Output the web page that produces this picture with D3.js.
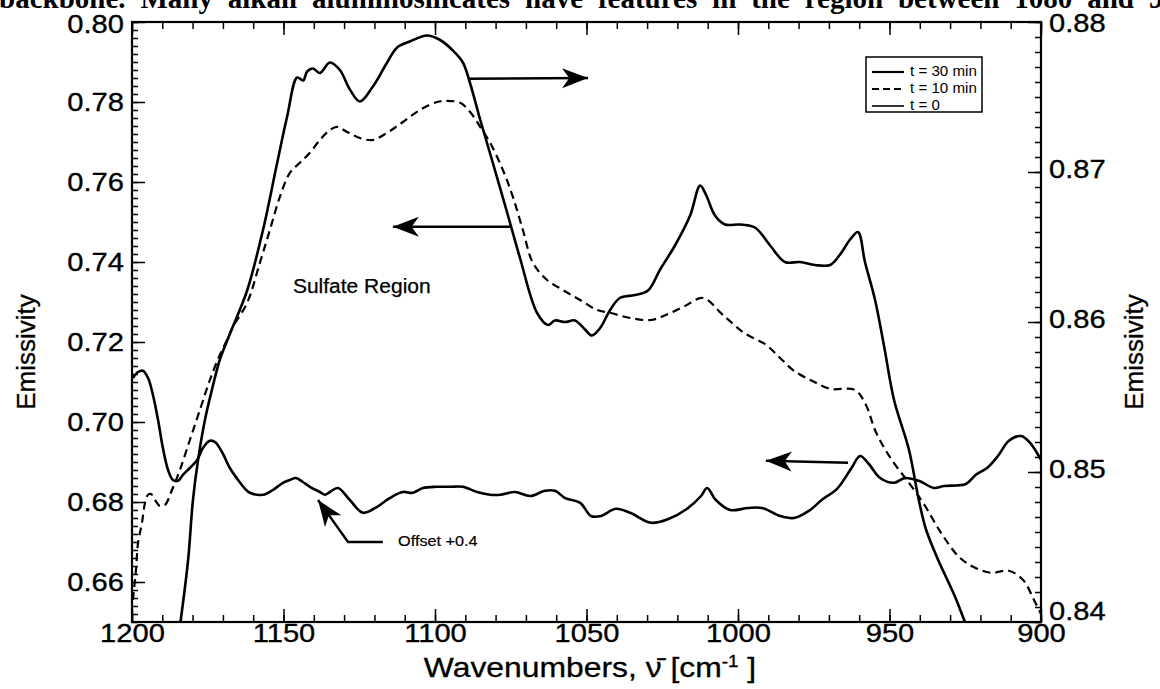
<!DOCTYPE html>
<html>
<head>
<meta charset="utf-8">
<script src="https://cdn.jsdelivr.net/npm/d3@7"></script>
<style>
  html, body { margin: 0; padding: 0; background: #fff; }
  svg { display: block; }
</style>
</head>
<body>
<svg id="chart" width="1160" height="689"></svg>
<script>
// ---------------- DATA ----------------
// t = 30 min (right axis)
const wn30 = [1184.0,1181.5,1179.9,1178.2,1175.9,1173.6,1171.0,1168.3,1166.7,1162.0,1156.8,1152.1,1148.8,1145.5,1143.5,1142.2,1140.3,1138.0,1134.7,1131.4,1128.1,1124.8,1120.5,1115.8,1112.5,1108.3,1102.6,1098.3,1094.1,1090.8,1088.4,1085.1,1080.9,1076.2,1072.0,1066.3,1062.7,1060.4,1057.1,1053.8,1050.5,1048.2,1045.5,1042.2,1039.0,1034.0,1029.7,1025.7,1020.8,1015.8,1012.5,1010.6,1007.6,1004.3,999.3,994.4,989.4,984.5,979.5,974.6,969.6,966.3,963.0,960.4,958.1,954.8,951.8,948.5,943.6,940.3,938.0,934.3,928.4,925.1,922.0];
const em30 = [0.8400,0.8441,0.8481,0.8508,0.8535,0.8555,0.8575,0.8589,0.8597,0.8621,0.8661,0.8706,0.8737,0.8763,0.8761,0.8767,0.8769,0.8766,0.8773,0.8768,0.8755,0.8747,0.8757,0.8773,0.8783,0.8787,0.8791,0.8788,0.8781,0.8773,0.8759,0.8735,0.8706,0.8673,0.8643,0.8606,0.8598,0.8601,0.8600,0.8601,0.8595,0.8591,0.8596,0.8608,0.8616,0.8618,0.8621,0.8635,0.8651,0.8671,0.8691,0.8685,0.8671,0.8665,0.8665,0.8663,0.8651,0.8640,0.8640,0.8638,0.8638,0.8645,0.8655,0.8660,0.8640,0.8615,0.8584,0.8548,0.8515,0.8481,0.8462,0.8443,0.8417,0.8400,0.8385];

// t = 10 min (left axis)
const wn10 = [1199.7,1198.7,1198.0,1196.7,1195.7,1194.7,1193.7,1192.4,1190.8,1189.1,1186.8,1184.2,1180.9,1177.6,1174.3,1171.0,1168.3,1166.7,1162.0,1157.8,1154.5,1151.2,1147.9,1144.6,1141.3,1138.0,1134.7,1132.3,1129.0,1124.8,1120.5,1115.8,1110.6,1105.0,1099.3,1096.0,1091.7,1088.4,1085.1,1081.8,1077.6,1074.3,1071.0,1067.7,1063.0,1057.8,1052.1,1046.5,1042.2,1035.6,1028.7,1023.1,1017.5,1011.6,1005.0,998.0,990.8,986.1,981.5,975.6,969.6,961.4,957.8,954.5,949.5,943.6,938.9,933.0,927.1,922.4,916.5,910.6,905.9,902.3,900.0];
const em10 = [0.6555,0.6630,0.6698,0.6748,0.6798,0.6818,0.6820,0.6805,0.6790,0.6793,0.6830,0.6880,0.6955,0.7030,0.7105,0.7168,0.7210,0.7238,0.7298,0.7398,0.7480,0.7563,0.7623,0.7648,0.7673,0.7705,0.7730,0.7738,0.7725,0.7710,0.7705,0.7723,0.7750,0.7780,0.7800,0.7803,0.7798,0.7775,0.7738,0.7698,0.7630,0.7563,0.7480,0.7398,0.7355,0.7330,0.7305,0.7280,0.7273,0.7260,0.7255,0.7270,0.7290,0.7310,0.7268,0.7223,0.7193,0.7160,0.7128,0.7103,0.7083,0.7080,0.7043,0.6975,0.6908,0.6848,0.6798,0.6723,0.6663,0.6638,0.6623,0.6628,0.6605,0.6555,0.6520];

// t = 0 (left axis, offset +0.4)
const wn0 = [1199.7,1198.0,1196.4,1194.7,1193.1,1191.4,1189.8,1188.1,1186.5,1184.8,1183.2,1180.9,1178.5,1176.6,1174.3,1172.6,1170.3,1167.7,1165.0,1162.7,1161.1,1156.8,1153.5,1150.2,1147.9,1145.9,1143.6,1141.3,1138.0,1136.3,1134.7,1132.0,1128.1,1123.8,1119.1,1114.9,1110.6,1107.3,1104.0,1099.3,1095.0,1090.8,1086.1,1081.8,1078.5,1073.6,1068.6,1063.7,1060.4,1057.1,1052.1,1048.5,1045.2,1040.3,1035.6,1028.7,1022.8,1016.8,1012.2,1010.2,1007.3,1002.6,996.7,992.1,986.1,981.5,976.6,971.9,967.3,962.7,959.7,956.8,953.1,948.5,944.9,940.3,935.3,932.0,924.8,921.5,917.8,914.2,910.6,906.6,903.6,900.0];
const em0 = [0.7110,0.7125,0.7128,0.7110,0.7068,0.7005,0.6935,0.6880,0.6855,0.6853,0.6868,0.6885,0.6905,0.6935,0.6953,0.6950,0.6925,0.6885,0.6855,0.6833,0.6823,0.6818,0.6830,0.6848,0.6855,0.6860,0.6850,0.6838,0.6825,0.6818,0.6825,0.6835,0.6805,0.6773,0.6788,0.6810,0.6825,0.6823,0.6835,0.6838,0.6838,0.6838,0.6825,0.6818,0.6818,0.6825,0.6815,0.6828,0.6828,0.6810,0.6798,0.6765,0.6765,0.6783,0.6773,0.6748,0.6758,0.6783,0.6815,0.6835,0.6805,0.6780,0.6785,0.6785,0.6765,0.6760,0.6778,0.6808,0.6833,0.6883,0.6915,0.6895,0.6860,0.6848,0.6860,0.6853,0.6835,0.6840,0.6845,0.6868,0.6885,0.6915,0.6953,0.6965,0.6948,0.6905];

// ticks
const xMajor = [1200, 1150, 1100, 1050, 1000, 950, 900];
const xMinor = d3.range(1200, 899, -10);
const yLeftMajor = [0.66, 0.68, 0.70, 0.72, 0.74, 0.76, 0.78, 0.80];
const yLeftMinor = d3.range(0, 76).map(i => 0.65 + i * 0.002);
const yRightMajor = [0.84, 0.85, 0.86, 0.87, 0.88];
const yRightMinor = d3.range(0, 41).map(i => 0.84 + i * 0.001);

const legendLabels = ["t = 30 min", "t = 10 min", "t = 0"];
const topText = "backbone.  Many alkali aluminosilicates have features in the region between 1080 and 9";

// ---------------- LAYOUT ----------------
const svg = d3.select("#chart");
const L = 132, R = 1041, T = 22, B = 622;
const font = "'Liberation Sans', Arial, Helvetica, sans-serif";
const WIDE = 1.12; // the printed figure's type is slightly wide

const x = d3.scaleLinear().domain([1200, 900]).range([L, R]);
const yL = d3.scaleLinear().domain([0.65, 0.80]).range([B, T]);
const yR = d3.scaleLinear().domain([0.84, 0.88]).range([B, T]);

function widen(sel, f) {
  sel.each(function () {
    const w = this.getComputedTextLength();
    if (w > 0) d3.select(this).attr("textLength", w * f).attr("lengthAdjust", "spacingAndGlyphs");
  });
}

// partial caption text at top (cropped document page)
const tt = svg.append("text")
  .attr("x", -1).attr("y", 8)
  .style("font-family", "'Liberation Serif', 'Times New Roman', serif")
  .style("font-weight", "bold").style("font-size", "29px")
  .text(topText);
{
  const w = tt.node().getComputedTextLength();
  const spaces = (topText.match(/ /g) || []).length;
  tt.style("word-spacing", ((1172 - w) / spaces) + "px");
}

svg.append("defs").append("clipPath").attr("id", "plotclip")
  .append("rect").attr("x", L).attr("y", T).attr("width", R - L).attr("height", B - T);

// ---------------- AXES ----------------
function styleAxis(g, fs) {
  g.select(".domain").remove();
  g.selectAll("line").attr("stroke", "#000").attr("stroke-width", 1.5);
  g.selectAll("text").style("font-family", font).style("font-size", fs + "px")
    .attr("fill", "#000").attr("stroke", "#000").attr("stroke-width", 0.35);
  widen(g.selectAll("text"), WIDE);
}
// bottom
svg.append("g").attr("transform", `translate(0,${B})`)
  .call(d3.axisBottom(x).tickValues(xMinor).tickSize(-7).tickFormat(""))
  .call(g => styleAxis(g, 26));
svg.append("g").attr("transform", `translate(0,${B})`)
  .call(d3.axisBottom(x).tickValues(xMajor).tickSize(-13).tickPadding(2).tickFormat(d3.format("d")))
  .call(g => styleAxis(g, 26));
// top
svg.append("g").attr("transform", `translate(0,${T})`)
  .call(d3.axisTop(x).tickValues(xMinor).tickSize(-7).tickFormat(""))
  .call(g => styleAxis(g, 26));
svg.append("g").attr("transform", `translate(0,${T})`)
  .call(d3.axisTop(x).tickValues(xMajor).tickSize(-13).tickFormat(""))
  .call(g => styleAxis(g, 26));
// left
svg.append("g").attr("transform", `translate(${L},0)`)
  .call(d3.axisLeft(yL).tickValues(yLeftMinor).tickSize(-6).tickFormat(""))
  .call(g => styleAxis(g, 26));
svg.append("g").attr("transform", `translate(${L},0)`)
  .call(d3.axisLeft(yL).tickValues(yLeftMajor).tickSize(-13).tickPadding(8).tickFormat(d3.format(".2f")))
  .call(g => g.selectAll("text").attr("dy", d => d === 0.80 ? "0.42em" : "0.32em"))
  .call(g => styleAxis(g, 26));
// right
svg.append("g").attr("transform", `translate(${R},0)`)
  .call(d3.axisRight(yR).tickValues(yRightMinor).tickSize(-6).tickFormat(""))
  .call(g => styleAxis(g, 26));
svg.append("g").attr("transform", `translate(${R},0)`)
  .call(d3.axisRight(yR).tickValues(yRightMajor).tickSize(-13).tickPadding(8).tickFormat(d3.format(".2f")))
  .call(g => g.selectAll("text").attr("dy", d => d === 0.84 ? "-0.1em" : (d === 0.88 ? "0.36em" : "0.22em")))
  .call(g => styleAxis(g, 26));

// frame
svg.append("rect").attr("x", L).attr("y", T).attr("width", R - L).attr("height", B - T)
  .attr("fill", "none").attr("stroke", "#000").attr("stroke-width", 2.2);

// axis titles
function yTitle(cx) {
  svg.append("text")
    .attr("transform", `translate(${cx},352) rotate(-90)`)
    .attr("text-anchor", "middle").attr("dominant-baseline", "middle")
    .style("font-family", font).style("font-size", "26px")
    .attr("stroke", "#000").attr("stroke-width", 0.3).text("Emissivity");
}
yTitle(28);
yTitle(1136);

const xt = svg.append("text")
  .attr("transform", "translate(590,677) scale(1.18,1)")
  .attr("text-anchor", "middle")
  .style("font-family", font).style("font-size", "27px")
  .attr("stroke", "#000").attr("stroke-width", 0.3);
xt.append("tspan").text("Wavenumbers, \u03BD\u0304 [cm");
xt.append("tspan").attr("dy", -10).style("font-size", "16px").text("-1");
xt.append("tspan").attr("dy", 10).text(" ]");

// ---------------- CURVES ----------------
const plot = svg.append("g").attr("clip-path", "url(#plotclip)");
const lineR = d3.line().x(d => x(d[0])).y(d => yR(d[1])).curve(d3.curveCatmullRom.alpha(0.5));
const lineL = d3.line().x(d => x(d[0])).y(d => yL(d[1])).curve(d3.curveCatmullRom.alpha(0.5));

plot.append("path").datum(d3.zip(wn30, em30)).attr("d", lineR)
  .attr("fill", "none").attr("stroke", "#000").attr("stroke-width", 2.6).attr("stroke-linejoin", "round");
plot.append("path").datum(d3.zip(wn10, em10)).attr("d", lineL)
  .attr("fill", "none").attr("stroke", "#000").attr("stroke-width", 2.2).attr("stroke-dasharray", "8,5");
plot.append("path").datum(d3.zip(wn0, em0)).attr("d", lineL)
  .attr("fill", "none").attr("stroke", "#000").attr("stroke-width", 2.6).attr("stroke-linejoin", "round");

// ---------------- ANNOTATIONS ----------------
function arrowHead(tx, ty, angle) {
  const Lh = 26, W = 10;
  const p = [[0, 0], [-Lh, -W], [-Lh * 0.72, 0], [-Lh, W]];
  const c = Math.cos(angle), s = Math.sin(angle);
  const pts = p.map(([a, b]) => [tx + a * c - b * s, ty + a * s + b * c]);
  svg.append("path").attr("d", "M" + pts.map(q => q.join(",")).join("L") + "Z").attr("fill", "#000");
}
function arrow(pointsData, yScale) {
  const pts = pointsData.map(([w, v]) => [x(w), yScale(v)]);
  svg.append("path").attr("d", d3.line()(pts)).attr("fill", "none").attr("stroke", "#000").attr("stroke-width", 2.4);
  const n = pts.length, a = pts[n - 2], b = pts[n - 1];
  arrowHead(b[0], b[1], Math.atan2(b[1] - a[1], b[0] - a[0]));
}
// right-pointing (t=30 -> right axis)
arrow([[1089.1, 0.7858], [1049.5, 0.7860]], yL);
// left-pointing (t=10 -> left axis)
arrow([[1075.2, 0.7488], [1113.9, 0.7488]], yL);
// left-pointing (t=0 -> left axis)
arrow([[963.7, 0.6898], [990.8, 0.6903]], yL);
// offset arrow
arrow([[1117.2, 0.6700], [1128.7, 0.6700], [1138.6, 0.6805]], yL);

const off = svg.append("text").attr("x", x(1112.2)).attr("y", yL(0.6700)).attr("dominant-baseline", "middle")
  .style("font-family", font).style("font-size", "14.5px")
  .attr("stroke", "#000").attr("stroke-width", 0.2).text("Offset +0.4");
widen(off, WIDE);
const sul = svg.append("text").attr("x", x(1146.9)).attr("y", yL(0.7335)).attr("dominant-baseline", "middle")
  .style("font-family", font).style("font-size", "20px")
  .attr("stroke", "#000").attr("stroke-width", 0.25).text("Sulfate Region");
widen(sul, 1.05);

// ---------------- LEGEND ----------------
const lg = svg.append("g").attr("transform", "translate(866,57)");
lg.append("rect").attr("width", 116).attr("height", 55).attr("fill", "#fff").attr("stroke", "#000").attr("stroke-width", 1.5);
const dashes = [null, "7,4", null];
const widths = [2.2, 2.2, 1.6];
legendLabels.forEach((lab, i) => {
  const yy = 15 + i * 17;
  lg.append("line").attr("x1", 6).attr("x2", 38).attr("y1", yy).attr("y2", yy)
    .attr("stroke", "#000").attr("stroke-width", widths[i]).attr("stroke-dasharray", dashes[i]);
  const t = lg.append("text").attr("x", 44).attr("y", yy).attr("dominant-baseline", "middle")
    .style("font-family", font).style("font-size", "14px").text(lab);
  widen(t, 1.08);
});
</script>
</body>
</html>
